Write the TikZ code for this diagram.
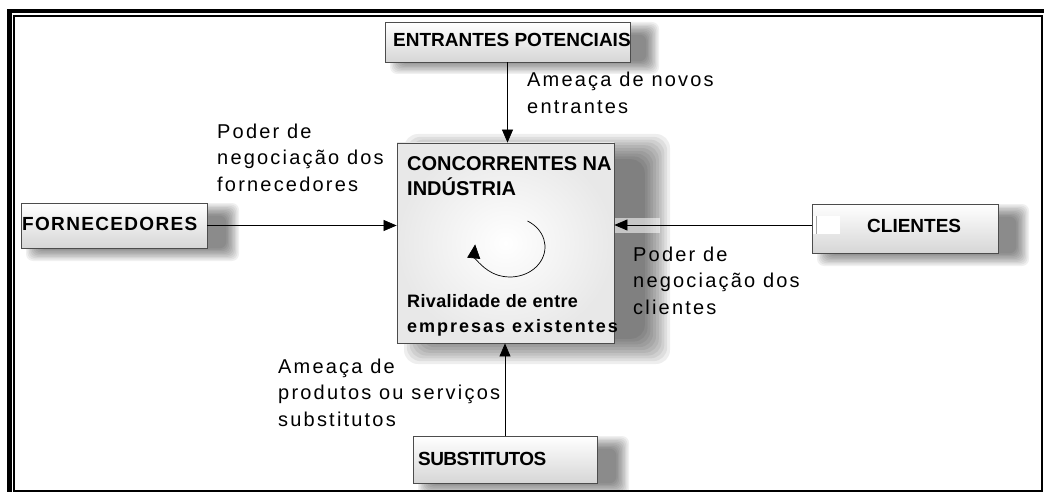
\documentclass[tikz,border=0pt]{standalone}
\usepackage{fontspec}
\setmainfont{Liberation Sans}
\usetikzlibrary{arrows.meta}
\newcommand\labfont{\fontsize{20}{26.5}\selectfont\addfontfeatures{LetterSpace=11}}
\newcommand\boxfont{\fontsize{19}{23}\selectfont\bfseries}
\newcommand\softshadow[6]{%
  \foreach \k in {0,...,9}{%
    \fill[black, opacity=#6, rounded corners=#5pt]
      ({#1-#5+\k*#5/5},{#2-#5+\k*#5/5}) rectangle ({#3+#5-\k*#5/5},{#4+#5-\k*#5/5});
  }}
\begin{document}
\begin{tikzpicture}[x=1pt,y=-1pt,
  tbox/.style={draw=black!70, line width=0.8pt, top color=white, bottom color=black!16, inner sep=0pt},
  cbox/.style={draw=black!70, line width=0.8pt, inner color=white, outer color=black!9, inner sep=0pt},
  lab/.style={anchor=base west, inner sep=0pt, align=left, font=\labfont},
  btxt/.style={anchor=base west, inner sep=0pt, align=left, font=\boxfont},
  arr/.style={-{Triangle[length=13pt,width=11pt]}, line width=0.7pt, black},
  carr/.style={-{Triangle[length=14pt,width=13pt]}, line width=0.7pt, black}]
\useasboundingbox (0,0) rectangle (1044,492);
% frame
\draw[line width=4.4pt] (9.5,492) -- (9.5,11.2) -- (1044,11.2);
\draw[line width=1.8pt] (14.3,15.8) rectangle (1042.2,490.8);
% shadows
\softshadow{397}{29}{652}{67}{7}{0.06}
\softshadow{33}{210}{232}{254}{7}{0.06}
\softshadow{824}{211}{1022}{259}{7}{0.06}
\softshadow{425}{443}{622}{489}{7}{0.06}
\softshadow{418}{148}{656}{350}{14}{0.065}
% boxes
\node[tbox, minimum width=245pt, minimum height=40pt] (ent) at (507.5,42) {};
\node[tbox, minimum width=186pt, minimum height=45pt] (forn) at (114,225.5) {};
\node[tbox, minimum width=186pt, minimum height=49pt] (cli) at (905,228.5) {};
\node[tbox, minimum width=184pt, minimum height=47pt] (sub) at (505,459.5) {};
\node[cbox, minimum width=217pt, minimum height=200pt] (cc) at (505.5,243) {};
% highlights
\fill[white, opacity=0.55] (614.5,218) rectangle (660,233);
\fill[white] (813,216) rectangle (840,234);
\draw[black!35, line width=0.6pt] (816,216) -- (816,234);
% connectors
\coordinate (cs) at ([yshift=3.5pt]cli.west);
\draw[arr] (ent.south) -- (ent.south |- cc.north);
\draw[arr] (forn.east) -- (forn.east -| cc.west);
\draw[arr] (cs) -- (cs -| cc.east);
\draw[arr] (sub.north) -- (sub.north |- cc.south);
\draw[carr] (527.5,221) arc[start angle=-60, end angle=185, x radius=35, y radius=30];
% texts
\node[btxt] (tent) at (393,47) {ENTRANTES POTENCIAIS};
\node[btxt, font=\boxfont\addfontfeatures{LetterSpace=7}] (tforn) at (22,230) {FORNECEDORES};
\node[btxt] (tcli) at (867,232) {CLIENTES};
\node[btxt, font=\boxfont\addfontfeatures{LetterSpace=-3}] (tsub) at (418,465) {SUBSTITUTOS};
\node[btxt, font=\fontsize{20}{25}\selectfont\bfseries] (tcc) at (407,195) {CONCORRENTES NA\\INDÚSTRIA};
\node[btxt, font=\fontsize{18}{25}\selectfont\bfseries\addfontfeatures{LetterSpace=2}] (triv) at (407,332)
  {Rivalidade de entre\\\addfontfeatures{LetterSpace=11}empresas existentes};
\node[lab] (lent) at (527,113.5) {Ameaça de novos\\entrantes};
\node[lab] (lforn) at (217,191) {Poder de\\negociação dos\\fornecedores};
\node[lab] (lcli) at (633,314) {Poder de\\negociação dos\\clientes};
\node[lab] (lsub) at (278,426) {Ameaça de\\produtos ou serviços\\substitutos};
\end{tikzpicture}
\end{document}
